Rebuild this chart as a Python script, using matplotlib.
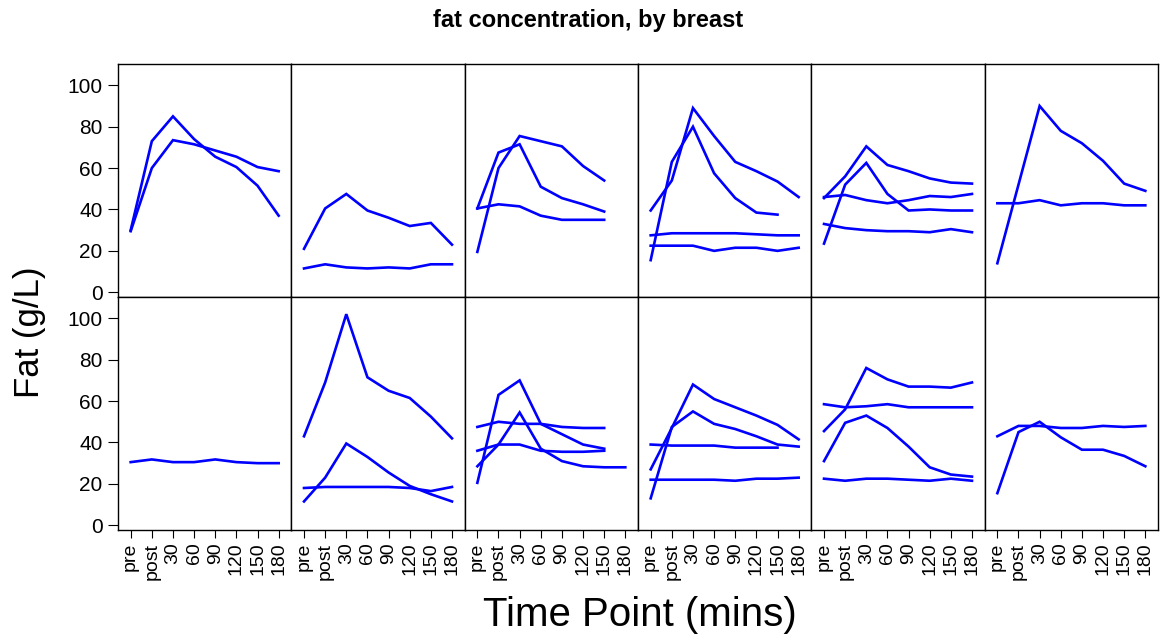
import numpy as np
import matplotlib
matplotlib.use("Agg")
import matplotlib.pyplot as plt

nan = np.nan
times = ["pre", "post", "30", "60", "90", "120", "150", "180"]
y_ticks = [0, 20, 40, 60, 80, 100]

p1 = [[30, 73, 85, 74, 65.5, 60.5, 51.5, 37],
      [29.5, 60, 73.5, 71.5, 68.5, 65.5, 60.5, 58.5]]
p2 = [[21, 40.5, 47.5, 39.5, 36, 32, 33.5, 23],
      [11.5, 13.5, 12, 11.5, 12, 11.5, 13.5, 13.5]]
p3 = [[40.5, 67.5, 71.5, 51, 45.5, 42.5, 39, nan],
      [19.5, 60, 75.5, 73, 70.5, 61, 54, nan],
      [40.5, 42.5, 41.5, 37, 35, 35, 35, nan]]
p4 = [[39.5, 54, 89, 75.5, 63, 58.5, 53.5, 46],
      [15.5, 63, 80, 57.5, 45.5, 38.5, 37.5, nan],
      [27.5, 28.5, 28.5, 28.5, 28.5, 28, 27.5, 27.5],
      [22.5, 22.5, 22.5, 20, 21.5, 21.5, 20, 21.5]]
p5 = [[45.5, 56, 70.5, 61.5, 58.5, 55, 53, 52.5],
      [23.5, 52, 62.5, 47.5, 39.5, 40, 39.5, 39.5],
      [46, 47, 44.5, 43, 44.5, 46.5, 46, 47.5],
      [33, 31, 30, 29.5, 29.5, 29, 30.5, 29]]
p6 = [[14, 52, 90, 78, 72, 63.5, 52.5, 49],
      [43, 43, 44.5, 42, 43, 43, 42, 42]]
p7 = [[30.5, 31.8, 30.5, 30.5, 31.8, 30.5, 30, 30]]
p8 = [[43, 69, 102, 71.5, 65, 61.5, 52.5, 42],
      [11.5, 23, 39.5, 33, 25.5, 19, 15, 11.5],
      [18, 18.5, 18.5, 18.5, 18.5, 18, 16.5, 18.5]]
p9 = [[20.5, 63, 70, 49, 44, 39, 37, nan],
      [28.5, 39, 54.5, 37, 31, 28.5, 28, 28],
      [47.5, 50, 49, 49, 47.5, 47, 47, nan],
      [36, 39, 39, 36, 35.5, 35.5, 36, nan]]
p10 = [[27, 47, 68, 61, 57, 53, 48.5, 41.5],
       [13, 47.5, 55, 49, 46.5, 43, 39, 38],
       [39, 38.5, 38.5, 38.5, 37.5, 37.5, 37.5, nan],
       [22, 22, 22, 22, 21.5, 22.5, 22.5, 23]]
p11 = [[45.5, 56, 76, 70.5, 67, 67, 66.5, 69],
       [58.5, 57, 57.5, 58.5, 57, 57, 57, 57],
       [31, 49.5, 53, 47, 38, 28, 24.5, 23.5],
       [22.5, 21.5, 22.5, 22.5, 22, 21.5, 22.5, 21.5]]
p12 = [[43, 48, 48, 47, 47, 48, 47.5, 48],
       [15.5, 45, 50, 42.5, 36.5, 36.5, 33.5, 28.5]]

panels = [[p1, p2, p3, p4, p5, p6], [p7, p8, p9, p10, p11, p12]]

plt.rcParams['font.family'] = ['Liberation Sans', 'DejaVu Sans']

fig = plt.figure(figsize=(11.63, 6.44), dpi=100)
gs = fig.add_gridspec(2, 6, left=118/1163, right=1158/1163,
                      top=1-64/644, bottom=1-530/644, wspace=0, hspace=0)
x = np.arange(len(times))
for r in range(2):
    for c in range(6):
        ax = fig.add_subplot(gs[r, c])
        for s in panels[r][c]:
            ax.plot(x, s, color='#0000ff', lw=1.9, solid_joinstyle='miter')
        ax.set_xlim(-0.6, 7.6)
        ax.set_ylim(-2.3, 110.3)
        for sp in ax.spines.values():
            sp.set_linewidth(1.0)
            sp.set_color('black')
        ax.set_yticks(y_ticks)
        ax.set_xticks(x)
        if c == 0:
            ax.tick_params(axis='y', direction='out', length=7, width=0.8,
                           labelsize=15, pad=4)
        else:
            ax.tick_params(axis='y', left=False, labelleft=False)
        if r == 1:
            ax.set_xticklabels(times, rotation=90)
            ax.tick_params(axis='x', direction='out', length=6, width=0.8,
                           labelsize=14, pad=3)
        else:
            ax.tick_params(axis='x', bottom=False, labelbottom=False)

fig.text(588/1163, 1-20/644, "fat concentration, by breast", ha='center', va='center',
         fontsize=17, fontweight='bold')
fig.text(640/1163, 1-615/644, "Time Point (mins)", ha='center', va='center', fontsize=29)
fig.text(30/1163, 1-332/644, "Fat (g/L)", ha='center', va='center', fontsize=25,
         rotation=90)

fig.savefig("out.png", dpi=100)
